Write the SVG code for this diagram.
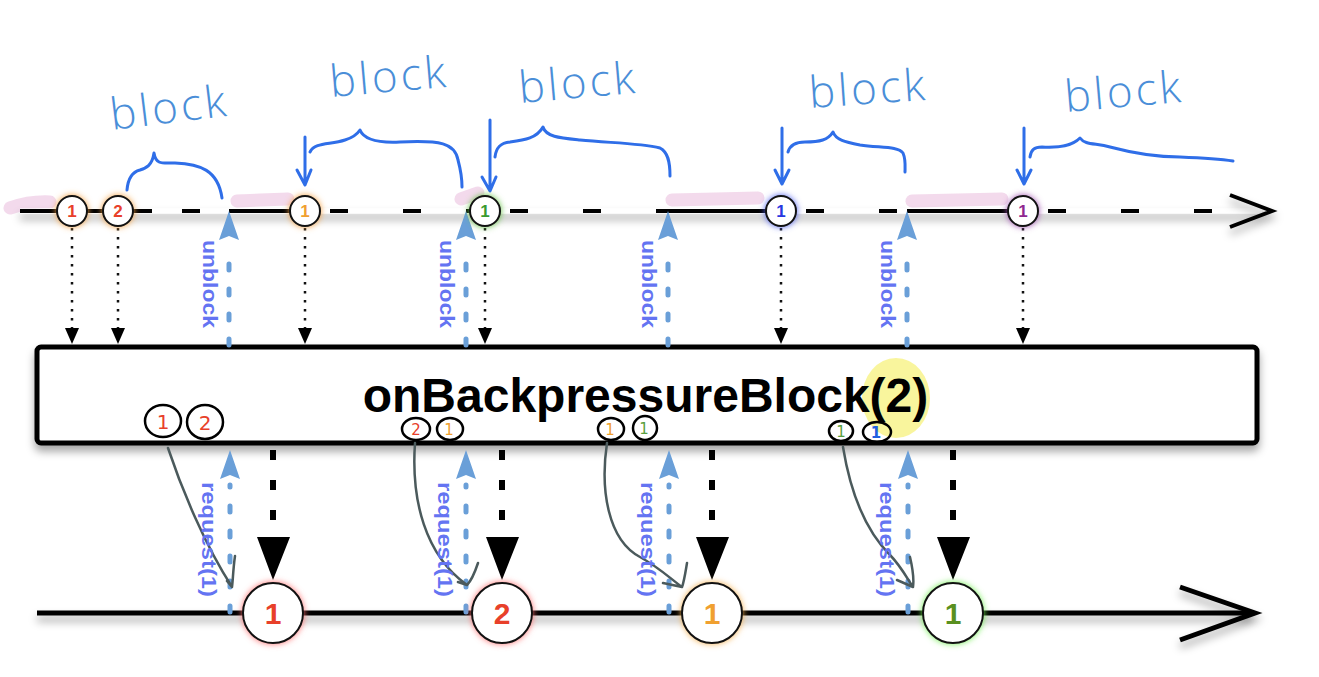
<svg xmlns="http://www.w3.org/2000/svg" width="1319" height="677" viewBox="0 0 1319 677">
<defs>
<filter id="shadow" filterUnits="userSpaceOnUse" x="0" y="0" width="1319" height="677">
<feDropShadow dx="0" dy="6" stdDeviation="4" flood-color="#000" flood-opacity="0.35"/>
</filter>
<filter id="glow" x="-50%" y="-50%" width="200%" height="200%">
<feGaussianBlur stdDeviation="3"/>
</filter>
<style>
.lbl{font-family:"Liberation Sans",Arial,sans-serif;font-weight:bold;fill:#6474f2;font-size:21px}
.hand{font-family:"Open Sans","DejaVu Sans",sans-serif;font-weight:300;fill:#4a8ed8;font-size:44px;letter-spacing:3px}
.brace{fill:none;stroke:#2f6ee8;stroke-width:3;stroke-linecap:round;stroke-linejoin:round}
.pink{fill:none;stroke:#f2d6ea;stroke-width:13;stroke-linecap:round;opacity:0.9}
.dotted{fill:none;stroke:#111;stroke-width:2.5;stroke-dasharray:2.5 6.5}
.blue-dash{fill:none;stroke:#6a9fd8;stroke-width:5;stroke-linecap:round;stroke-dasharray:6 19}
.blue-head{fill:#6a9fd8}
.black-dash{fill:none;stroke:#000;stroke-width:6;stroke-dasharray:10 20}
.gray{fill:none;stroke:#4b5a5c;stroke-width:2.5;stroke-linecap:round;stroke-linejoin:round}
.sc{fill:#fff;stroke:#111;stroke-width:2}
.stxt{font-family:"Liberation Sans",Arial,sans-serif;font-weight:bold;font-size:17px;text-anchor:middle}
.btxt{font-family:"Liberation Sans",Arial,sans-serif;font-weight:bold;font-size:30px;text-anchor:middle}
.hc{fill:none;stroke:#000;stroke-width:2.5}
.htxt{font-family:"DejaVu Sans",sans-serif;font-size:20px;text-anchor:middle}
</style>
</defs>
<rect width="1319" height="677" fill="#fff"/>

<!-- pink highlights -->
<g id="highlights">
<path class="pink" d="M10 208 Q30 201 50 202"/>
<path class="pink" d="M237 201 L288 199"/>
<path class="pink" d="M461 199 L478 193"/>
<path class="pink" d="M672 200 L758 198"/>
<path class="pink" d="M912 201 L1002 199"/>
</g>

<!-- top timeline -->
<g id="top-timeline">
<line x1="20" y1="211" x2="1262" y2="211" stroke="#fff" stroke-width="5" filter="url(#shadow)"/>
<g stroke="#000" stroke-width="4" fill="none">
<line x1="20" y1="211" x2="152" y2="211"/>
<line x1="152" y1="211" x2="229" y2="211" stroke-dasharray="0 30 18 30"/>
<line x1="229" y1="211" x2="305" y2="211"/>
<line x1="305" y1="211" x2="466" y2="211" stroke-dasharray="0 25 18 30"/>
<line x1="466" y1="211" x2="485" y2="211"/>
<line x1="485" y1="211" x2="668" y2="211" stroke-dasharray="0 25 18 30"/>
<line x1="668" y1="211" x2="781" y2="211"/>
<line x1="781" y1="211" x2="907" y2="211" stroke-dasharray="0 25 18 30"/>
<line x1="907" y1="211" x2="1023" y2="211"/>
<line x1="1023" y1="211" x2="1262" y2="211" stroke-dasharray="0 25 18 30"/>
<path d="M1230 195 L1272 211 L1230 227" stroke-width="4" stroke-linejoin="miter" filter="url(#shadow)"/>
</g>
</g>

<!-- braces and block labels -->
<g id="block-annotations">
<text class="hand" transform="translate(112,130) rotate(-7)">block</text>
<text class="hand" transform="translate(331,97) rotate(-5)">block</text>
<text class="hand" transform="translate(520,103) rotate(-5)">block</text>
<text class="hand" transform="translate(810,108) rotate(-4)">block</text>
<text class="hand" transform="translate(1066,112) rotate(-5)">block</text>
<path class="brace" d="M127 190 C128 178 132 172 140 170 C146 168 152 166 154 153 C156 165 162 163 175 163 C200 164 218 170 222 198"/>
<path class="brace" d="M305 137 L305 183 M297 170 L305 185 L311 170"/>
<path class="brace" d="M310 152 C315 142 330 145 345 140 C355 137 358 133 360 130 C364 140 380 143 400 142 C440 140 455 143 458 160 C462 175 462 182 462 187"/>
<path class="brace" d="M490 120 L490 190 M482 177 L490 191 L496 177"/>
<path class="brace" d="M495 157 C496 148 500 143 510 142 C525 140 537 138 543 127 C546 137 560 138 580 140 C610 143 640 143 660 148 C668 152 670 162 670 176"/>
<path class="brace" d="M782 128 L782 183 M775 170 L782 184 L789 170"/>
<path class="brace" d="M788 152 C790 145 795 142 805 142 C820 142 828 140 833 132 C836 140 845 142 860 145 C880 148 898 146 903 153 C906 160 905 168 905 172"/>
<path class="brace" d="M1024 128 L1024 183 M1017 170 L1024 184 L1031 170"/>
<path class="brace" d="M1030 157 C1031 150 1034 147 1042 147 C1060 148 1072 146 1080 138 C1085 145 1095 143 1110 147 C1140 155 1160 157 1180 157 C1205 158 1220 159 1233 161"/>
</g>

<!-- box -->
<g id="operator-box">
<rect x="37" y="347" width="1220" height="96" rx="4" fill="#fff" stroke="#000" stroke-width="5" filter="url(#shadow)"/>
<ellipse cx="896" cy="398" rx="34" ry="40" fill="#f8f38c" opacity="0.85"/>
<text x="645.5" y="412" font-family="Liberation Sans,Arial,sans-serif" font-weight="bold" font-size="48" text-anchor="middle" fill="#000">onBackpressureBlock(2)</text>
</g>

<!-- hand-drawn buffer circles -->
<g id="buffer-1">
<ellipse class="hc" cx="163" cy="421" rx="18" ry="16"/>
<text class="htxt" x="163" y="429" fill="#e8402a">1</text>
<ellipse class="hc" cx="205" cy="422" rx="18" ry="17"/>
<text class="htxt" x="205" y="430" fill="#e8402a">2</text>
</g>
<g id="buffer-2">
<ellipse class="hc" cx="416" cy="429" rx="14" ry="11"/>
<text class="htxt" x="416" y="435" fill="#e8402a" style="font-size:15px">2</text>
<ellipse class="hc" cx="450" cy="429" rx="13" ry="11"/>
<text class="htxt" x="449" y="435" fill="#f0a030" style="font-size:15px">1</text>
</g>
<g id="buffer-3">
<ellipse class="hc" cx="611" cy="429" rx="13" ry="11"/>
<text class="htxt" x="610" y="435" fill="#f0a030" style="font-size:15px">1</text>
<ellipse class="hc" cx="645" cy="428" rx="12" ry="12"/>
<text class="htxt" x="644" y="434" fill="#5aa040" style="font-size:15px">1</text>
</g>
<g id="buffer-4">
<ellipse class="hc" cx="841" cy="431" rx="12" ry="10"/>
<text class="htxt" x="841" y="437" fill="#5aa040" style="font-size:15px">1</text>
<ellipse class="hc" cx="877" cy="432" rx="14" ry="10"/>
<text class="htxt" x="876" y="438" fill="#2060e0" style="font-size:15px;font-weight:bold">1</text>
</g>

<!-- bottom timeline -->
<g id="bottom-timeline">
<line x1="37" y1="613" x2="1250" y2="613" stroke="#000" stroke-width="5" filter="url(#shadow)"/>
<path d="M1180 587 L1255 613 L1180 640" fill="none" stroke="#000" stroke-width="5" filter="url(#shadow)"/>
</g>

<!-- connectors -->
<g id="connectors">
<g>
<line class="dotted" x1="72" y1="228" x2="72" y2="330"/>
<line class="dotted" x1="118" y1="228" x2="118" y2="330"/>
<line class="dotted" x1="305" y1="228" x2="305" y2="330"/>
<line class="dotted" x1="485" y1="228" x2="485" y2="330"/>
<line class="dotted" x1="781" y1="228" x2="781" y2="330"/>
<line class="dotted" x1="1023" y1="228" x2="1023" y2="330"/>
<path d="M65 328 L79 328 L72 344 Z M111 328 L125 328 L118 344 Z M298 328 L312 328 L305 344 Z M478 328 L492 328 L485 344 Z M774 328 L788 328 L781 344 Z M1016 328 L1030 328 L1023 344 Z" fill="#000"/>
</g>
<g>
<line class="blue-dash" x1="229" y1="345" x2="229" y2="245"/>
<line class="blue-dash" x1="466" y1="345" x2="466" y2="245"/>
<line class="blue-dash" x1="668" y1="345" x2="668" y2="245"/>
<line class="blue-dash" x1="907" y1="345" x2="907" y2="245"/>
<path class="blue-head" d="M229 211 L239 240 L229 236 L219 240 Z M466 211 L476 240 L466 236 L456 240 Z M668 211 L678 240 L668 236 L658 240 Z M907 211 L917 240 L907 236 L897 240 Z"/>
<line class="blue-dash" x1="230" y1="612" x2="230" y2="485"/>
<line class="blue-dash" x1="466" y1="612" x2="466" y2="485"/>
<line class="blue-dash" x1="669" y1="612" x2="669" y2="485"/>
<line class="blue-dash" x1="908" y1="612" x2="908" y2="485"/>
<path class="blue-head" d="M230 450 L240 479 L230 475 L220 479 Z M466 450 L476 479 L466 475 L456 479 Z M669 450 L679 479 L669 475 L659 479 Z M908 450 L918 479 L908 475 L898 479 Z"/>
</g>
<g>
<line class="black-dash" x1="273" y1="450" x2="273" y2="540"/>
<line class="black-dash" x1="502" y1="450" x2="502" y2="540"/>
<line class="black-dash" x1="712" y1="450" x2="712" y2="540"/>
<line class="black-dash" x1="953" y1="450" x2="953" y2="540"/>
<path d="M257 537 L290 537 L273 580 Z M486 537 L519 537 L502 580 Z M696 537 L729 537 L712 580 Z M937 537 L970 537 L953 580 Z" fill="#000"/>
</g>
<g>
<path class="gray" d="M168 448 C182 490 205 545 232 587 L227 581 M235 556 C233 570 233 580 232 587"/>
<path class="gray" d="M415 443 C411 500 425 555 467 585 L458 582 M478 563 C474 575 470 582 467 585"/>
<path class="gray" d="M607 443 C600 490 608 540 640 557 C660 568 672 580 682 587 L663 583 M687 563 C685 575 684 582 682 587"/>
<path class="gray" d="M843 447 C850 490 865 530 890 555 C900 565 907 578 913 587 L897 580 M910 557 C913 570 914 580 913 587"/>
</g>
<g>
<text class="lbl" transform="translate(203,240) rotate(90)" textLength="88" lengthAdjust="spacingAndGlyphs">unblock</text>
<text class="lbl" transform="translate(440,240) rotate(90)" textLength="88" lengthAdjust="spacingAndGlyphs">unblock</text>
<text class="lbl" transform="translate(642,240) rotate(90)" textLength="88" lengthAdjust="spacingAndGlyphs">unblock</text>
<text class="lbl" transform="translate(881,240) rotate(90)" textLength="88" lengthAdjust="spacingAndGlyphs">unblock</text>
<text class="lbl" transform="translate(202,482) rotate(90)" textLength="115" lengthAdjust="spacingAndGlyphs">request(1)</text>
<text class="lbl" transform="translate(438,482) rotate(90)" textLength="115" lengthAdjust="spacingAndGlyphs">request(1)</text>
<text class="lbl" transform="translate(641,482) rotate(90)" textLength="115" lengthAdjust="spacingAndGlyphs">request(1)</text>
<text class="lbl" transform="translate(880,482) rotate(90)" textLength="115" lengthAdjust="spacingAndGlyphs">request(1)</text>
</g>
</g>

<!-- top circles -->
<g id="top-1a">
<circle cx="72" cy="211" r="16" fill="#f5a040" filter="url(#glow)"/>
<circle class="sc" cx="72" cy="211" r="15"/>
<text class="stxt" x="72" y="217" fill="#e8402a">1</text>
</g>
<g id="top-2a">
<circle cx="118" cy="211" r="16" fill="#f5a040" filter="url(#glow)"/>
<circle class="sc" cx="118" cy="211" r="15"/>
<text class="stxt" x="118" y="217" fill="#e8402a">2</text>
</g>
<g id="top-1b">
<circle cx="305" cy="211" r="16" fill="#f5a040" filter="url(#glow)"/>
<circle class="sc" cx="305" cy="211" r="15"/>
<text class="stxt" x="305" y="217" fill="#f0a030">1</text>
</g>
<g id="top-1c">
<circle cx="485" cy="211" r="16" fill="#60c040" filter="url(#glow)"/>
<circle class="sc" cx="485" cy="211" r="15"/>
<text class="stxt" x="485" y="217" fill="#3a9a30">1</text>
</g>
<g id="top-1d">
<circle cx="781" cy="211" r="16" fill="#5060f0" filter="url(#glow)"/>
<circle class="sc" cx="781" cy="211" r="15"/>
<text class="stxt" x="781" y="217" fill="#2838e0">1</text>
</g>
<g id="top-1e">
<circle cx="1023" cy="211" r="16" fill="#a050b0" filter="url(#glow)"/>
<circle class="sc" cx="1023" cy="211" r="15"/>
<text class="stxt" x="1023" y="217" fill="#902890">1</text>
</g>

<!-- bottom circles -->
<g id="out-1">
<circle cx="273" cy="613" r="31" fill="#ff7070" filter="url(#glow)"/>
<circle class="sc" cx="273" cy="613" r="30"/>
<text class="btxt" x="273" y="624" fill="#e8402a">1</text>
</g>
<g id="out-2">
<circle cx="502" cy="613" r="31" fill="#ff7070" filter="url(#glow)"/>
<circle class="sc" cx="502" cy="613" r="30"/>
<text class="btxt" x="502" y="624" fill="#e8402a">2</text>
</g>
<g id="out-3">
<circle cx="712" cy="613" r="31" fill="#f5b050" filter="url(#glow)"/>
<circle class="sc" cx="712" cy="613" r="30"/>
<text class="btxt" x="712" y="624" fill="#f0a030">1</text>
</g>
<g id="out-4">
<circle cx="953" cy="613" r="31" fill="#70ee50" filter="url(#glow)"/>
<circle class="sc" cx="953" cy="613" r="30"/>
<text class="btxt" x="953" y="624" fill="#5a9020">1</text>
</g>
</svg>
